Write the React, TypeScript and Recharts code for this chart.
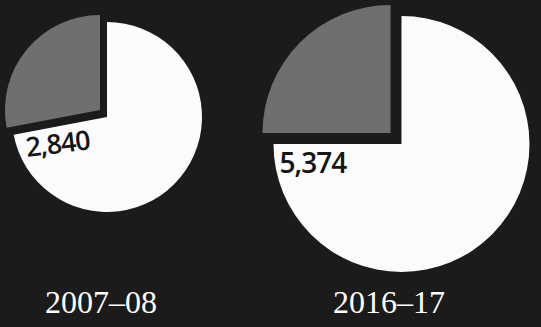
import React from 'react';
import { PieChart, Pie, Cell } from 'recharts';

const years = ['2007–08', '2016–17'];
const totals = ['2,840', '5,374'];
const grayShare = [28, 25];
const whiteShare = [72, 75];

const BG = '#1b1b1b';
const GRAY = '#6f6f6f';
const WHITE = '#fbfbfb';

const layout = [
  { cx: 107, cy: 117, r: 95, dx: -7, dy: -7, fs: 27, lx: -80, ly: 40, rot: -7, yx: 101 },
  { cx: 401.5, cy: 144, r: 128, dx: -11, dy: -11, fs: 28, ly: 29, lx: -122, rot: 0, yx: 389 },
];

export default function App() {
  const pies: React.ReactNode[] = [];
  years.forEach((year, i) => {
    const L = layout[i];
    const data = [
      { name: 'gray', value: grayShare[i] },
      { name: 'white', value: whiteShare[i] },
    ];
    pies.push(
      <Pie
        key={'g' + i}
        data={data}
        dataKey="value"
        nameKey="name"
        cx={L.cx + L.dx}
        cy={L.cy + L.dy}
        outerRadius={L.r}
        innerRadius={0}
        startAngle={90}
        endAngle={450}
        stroke="none"
        isAnimationActive={false}
        labelLine={false}
        label={false}
      >
        <Cell fill={GRAY} />
        <Cell fill="none" />
      </Pie>
    );
    pies.push(
      <Pie
        key={'w' + i}
        data={data}
        dataKey="value"
        nameKey="name"
        cx={L.cx}
        cy={L.cy}
        outerRadius={L.r}
        innerRadius={0}
        startAngle={90}
        endAngle={450}
        stroke="none"
        isAnimationActive={false}
        labelLine={false}
        label={(p: any) => {
          if (p.index !== 1) return null;
          const tx = L.cx + L.lx;
          const ty = L.cy + L.ly;
          return (
            <g>
              <text
                x={tx}
                y={ty}
                fill="#151515"
                fontFamily="'Open Sans', sans-serif"
                fontWeight={600}
                fontSize={L.fs}
                letterSpacing={-1}
                textAnchor="start"
                transform={`rotate(${L.rot}, ${tx}, ${ty})`}
              >
                {totals[i]}
              </text>
              <text
                x={L.yx}
                y={313}
                fill="#ffffff"
                fontFamily="'Liberation Serif', serif"
                fontSize={32}
                textAnchor="middle"
              >
                {year}
              </text>
            </g>
          );
        }}
      >
        <Cell fill="none" />
        <Cell fill={WHITE} />
      </Pie>
    );
  });

  return (
    <div style={{ position: 'absolute', left: 0, top: 0, width: 541, height: 327, background: BG }}>
      <PieChart width={541} height={327} margin={{ top: 0, right: 0, bottom: 0, left: 0 }}>
        {pies}
      </PieChart>
    </div>
  );
}
